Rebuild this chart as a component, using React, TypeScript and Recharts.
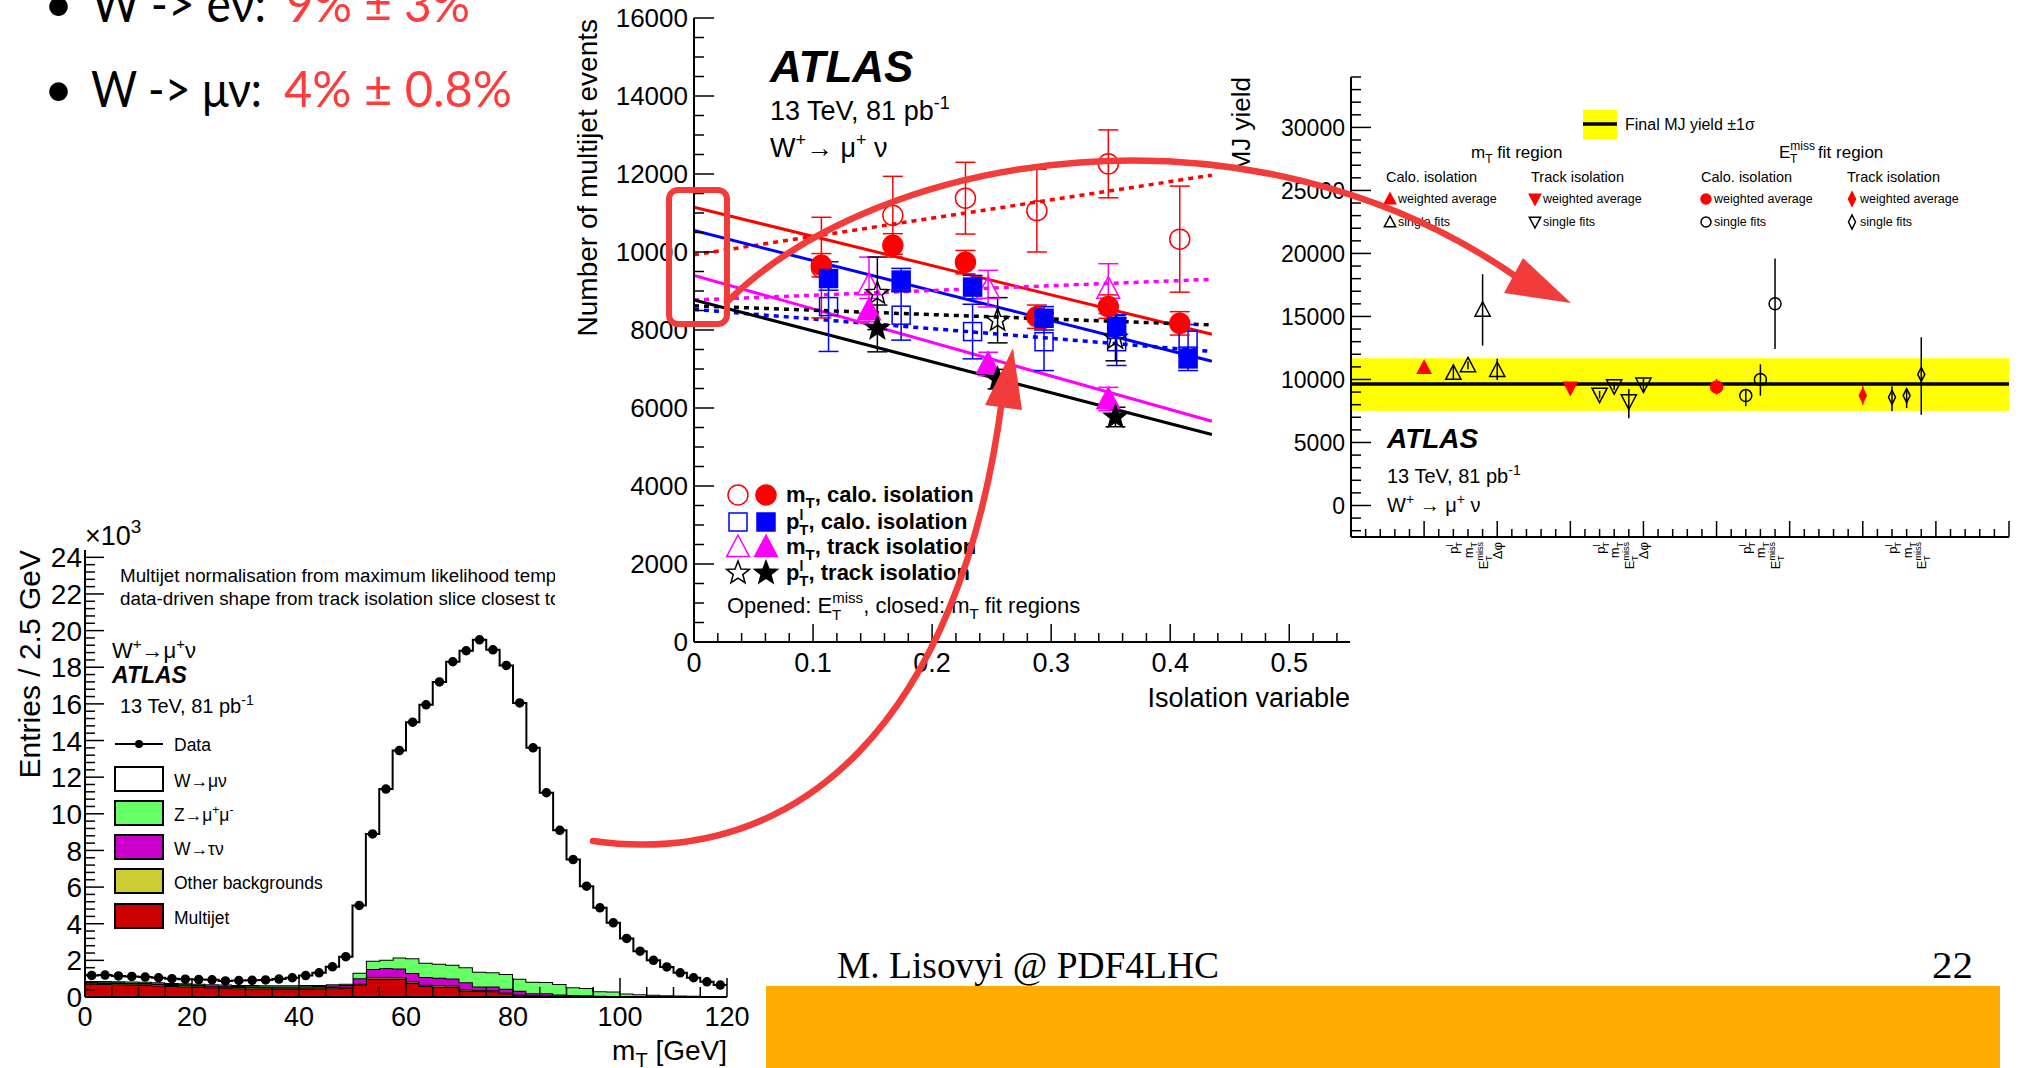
import React from 'react'
import {
  ComposedChart,
  Area,
  Line,
  Scatter,
  XAxis,
  YAxis,
  ErrorBar,
  ReferenceArea,
  ReferenceLine,
} from 'recharts'

const ROOT = '"Liberation Sans", Arial, Helvetica, sans-serif'
const RED = '#ff0000'
const BLUE = '#0000ff'
const MAGENTA = '#ff00ff'
const ARROW = '#f23c3c'
const frame = { stroke: '#000', strokeWidth: 2 }

// ---- m_T distribution, W+ -> mu+ nu, 2.5 GeV bins (thousands of entries) ----
const mtEdges = Array.from({ length: 48 }, (_, i) => i * 2.5)
const mtData = [
  1.18, 1.2, 1.15, 1.12, 1.09, 1.05, 1.0, 0.97, 0.95, 0.94, 0.88, 0.9, 0.91, 0.93, 0.98, 1.05,
  1.17, 1.32, 1.65, 2.2, 5.0, 8.9, 11.35, 13.45, 15.0, 15.95, 17.2, 18.3, 18.9, 19.5, 18.95, 18.1,
  16.05, 13.6, 11.15, 9.1, 7.5, 6.05, 4.87, 4.05, 3.2, 2.5, 2.0, 1.64, 1.32, 1.05, 0.83, 0.65,
]
const mtWmunu = [
  0.3, 0.33, 0.29, 0.28, 0.26, 0.25, 0.23, 0.22, 0.23, 0.25, 0.2, 0.24, 0.26, 0.29, 0.34, 0.41,
  0.52, 0.66, 0.96, 1.48, 3.67, 6.92, 9.32, 11.29, 12.89, 14.08, 15.39, 16.54, 17.28, 18.12, 17.6, 16.85,
  15.05, 12.77, 10.33, 8.39, 6.97, 5.56, 4.55, 3.75, 3.01, 2.35, 1.88, 1.54, 1.24, 0.98, 0.77, 0.6,
]
const mtZmumu = [
  0.06, 0.06, 0.06, 0.06, 0.06, 0.06, 0.06, 0.06, 0.06, 0.06, 0.06, 0.06, 0.06, 0.06, 0.06, 0.06,
  0.06, 0.06, 0.06, 0.06, 0.3, 0.45, 0.45, 0.6, 0.8, 0.78, 0.76, 0.75, 0.82, 0.8, 0.78, 0.8,
  0.66, 0.62, 0.62, 0.57, 0.42, 0.4, 0.25, 0.24, 0.16, 0.12, 0.1, 0.08, 0.06, 0.05, 0.04, 0.03,
]
const mtWtaunu = [
  0.04, 0.04, 0.04, 0.04, 0.05, 0.05, 0.05, 0.05, 0.05, 0.05, 0.06, 0.06, 0.06, 0.06, 0.07, 0.07,
  0.08, 0.08, 0.09, 0.1, 0.3, 0.45, 0.5, 0.5, 0.47, 0.42, 0.4, 0.38, 0.38, 0.2, 0.2, 0.2,
  0.2, 0.12, 0.12, 0.08, 0.06, 0.05, 0.04, 0.03, 0.02, 0.02, 0.01, 0.01, 0.01, 0.01, 0.01, 0.01,
]
const mtOther = [
  0.06, 0.06, 0.06, 0.06, 0.06, 0.06, 0.06, 0.06, 0.06, 0.06, 0.06, 0.06, 0.06, 0.06, 0.06, 0.06,
  0.06, 0.06, 0.06, 0.06, 0.05, 0.08, 0.08, 0.08, 0.08, 0.07, 0.07, 0.07, 0.06, 0.05, 0.05, 0.05,
  0.04, 0.04, 0.04, 0.03, 0.03, 0.02, 0.02, 0.02, 0.01, 0.01, 0.01, 0.01, 0.01, 0.01, 0.01, 0.01,
]
const mtMultijet = [
  0.72, 0.71, 0.7, 0.68, 0.66, 0.63, 0.6, 0.58, 0.55, 0.52, 0.5, 0.48, 0.47, 0.46, 0.45, 0.45,
  0.45, 0.46, 0.48, 0.5, 0.68, 1.0, 1.0, 0.98, 0.76, 0.6, 0.58, 0.56, 0.36, 0.33, 0.32, 0.2,
  0.1, 0.05, 0.04, 0.03, 0.02, 0.02, 0.01, 0.01, 0, 0, 0, 0, 0, 0, 0, 0,
]

// ---- multijet yield vs isolation slice ----
const isoMtCaloX = [0.107, 0.167, 0.228, 0.288, 0.348, 0.408]
const isoMtCaloClosed = [9660, 10170, 9740, 8340, 8600, 8170]
const isoMtCaloOpen = [9600, 10940, 11380, 11060, 12260, 10330]
const isoMtCaloOpenErr = [1290, 1000, 920, 1060, 870, 1360]
const isoPtCaloX = [0.113, 0.174, 0.234, 0.294, 0.355, 0.415]
const isoPtCaloClosed = [9320, 9280, 9100, 8300, 8090, 7260]
const isoPtCaloOpen = [8600, 8380, 7960, 7700, 7700, 7740]
const isoPtCaloOpenErr = [1150, 640, 700, 740, 610, 400]
const isoMtTrackX = [0.147, 0.247, 0.348]
const isoMtTrackClosed = [8510, 7130, 6230]
const isoMtTrackOpen = [9150, 9060, 9060]
const isoMtTrackOpenErr = [720, 470, 640]
const isoPtTrackX = [0.154, 0.255, 0.354]
const isoPtTrackClosed = [8040, 6740, 5770]
const isoPtTrackClosedErr = [600, 250, 250]
const isoPtTrackOpen = [8940, 8250, 7790]
const isoPtTrackOpenErr = [930, 580, 580]
const isoClosedErr = [300, 300, 300, 300, 300, 300]

// straight-line extrapolations to zero isolation
const fitX = [0, 0.435]
const fitMtCalo = [11150, 7890]
const fitMtCaloMet = [9930, 11970]
const fitPtCalo = [10550, 7200]
const fitPtCaloMet = [8530, 7450]
const fitMtTrack = [9400, 5660]
const fitMtTrackMet = [8770, 9300]
const fitPtTrack = [8770, 5320]
const fitPtTrackMet = [8620, 8130]

// ---- final multijet yield summary (x = slot index) ----
const mjFinal = 9650
const mjFinalLo = 7520
const mjFinalHi = 11680
const mjMtCaloAvgX = [5]
const mjMtCaloAvg = [10930]
const mjMtCaloFitX = [7, 8, 9, 10]
const mjMtCaloFit = [10530, 11120, 15530, 10750]
const mjMtCaloFitLo = [580, 300, 2840, 800]
const mjMtCaloFitHi = [540, 300, 2820, 900]
const mjMtTrackAvgX = [15]
const mjMtTrackAvg = [9330]
const mjMtTrackFitX = [17, 18, 19, 20]
const mjMtTrackFit = [8800, 9470, 8270, 9600]
const mjMtTrackFitLo = [300, 300, 1340, 610]
const mjMtTrackFitHi = [300, 300, 980, 450]
const mjMetCaloAvgX = [25]
const mjMetCaloAvg = [9410]
const mjMetCaloAvgLo = [610]
const mjMetCaloAvgHi = [640]
const mjMetCaloFitX = [27, 28, 29]
const mjMetCaloFit = [8720, 10000, 16010]
const mjMetCaloFitLo = [850, 1280, 3590]
const mjMetCaloFitHi = [480, 1200, 3590]
const mjMetTrackAvgX = [35]
const mjMetTrackAvg = [8720]
const mjMetTrackAvgLo = [720]
const mjMetTrackAvgHi = [750]
const mjMetTrackFitX = [37, 38, 39]
const mjMetTrackFit = [8590, 8720, 10400]
const mjMetTrackFitLo = [1120, 990, 3200]
const mjMetTrackFitHi = [880, 480, 2950]
const mjLabelSlots = [7, 8, 9, 10, 17, 18, 19, 20, 27, 28, 29, 37, 38, 39]
const mjLabelVars = ['pt', 'mt', 'met', 'dphi', 'pt', 'mt', 'met', 'dphi', 'pt', 'mt', 'met', 'pt', 'mt', 'met']

const grid = (a: number, b: number, s: number) =>
  Array.from({ length: Math.floor((b - a) / s + 1e-9) + 1 }, (_, i) => +(a + i * s).toFixed(4))

const pts = (xs: number[], ys: number[], lo?: number[], hi?: number[]) =>
  xs.map((x, i) => ({ x, y: ys[i], e: [lo ? lo[i] : 0, hi ? hi[i] : lo ? lo[i] : 0] }))

const fitRows = (ys: number[]) => fitX.map((x, i) => ({ x, y: ys[i] }))

type Side = 'bottom' | 'left' | 'top' | 'right'
type TickOpts = { side: Side; step: number; major: number; minor: number; font?: number; gap?: number; fmt?: (v: number) => string }

// ROOT style: ticks drawn inward, long ones on the major divisions
function rootTick(o: TickOpts) {
  return (props: any) => {
    const { x, y, payload } = props
    const v: number = payload.value
    const r = v / o.step
    const isMajor = Math.abs(r - Math.round(r)) < 1e-6
    const len = isMajor ? o.major : o.minor
    const dx = o.side === 'left' ? len : o.side === 'right' ? -len : 0
    const dy = o.side === 'bottom' ? -len : o.side === 'top' ? len : 0
    return (
      <g>
        <line x1={x} y1={y} x2={x + dx} y2={y + dy} stroke="#000" strokeWidth={1.5} />
        {isMajor && o.fmt && o.side === 'bottom' && (
          <text x={x} y={y + (o.gap ?? 0)} textAnchor="middle" fontFamily={ROOT} fontSize={o.font} fill="#000">
            {o.fmt(v)}
          </text>
        )}
        {isMajor && o.fmt && o.side === 'left' && (
          <text x={x - (o.gap ?? 0)} y={y} dy="0.36em" textAnchor="end" fontFamily={ROOT} fontSize={o.font} fill="#000">
            {o.fmt(v)}
          </text>
        )}
      </g>
    )
  }
}

type Kind = 'circle' | 'square' | 'triUp' | 'triDown' | 'star' | 'diamond'

function Marker({ kind, cx, cy, size, color, open, sw = 1.5 }: { kind: Kind; cx: number; cy: number; size: number; color: string; open?: boolean; sw?: number }) {
  const fill = open ? 'none' : color
  const s = size
  const common = { fill, stroke: color, strokeWidth: sw }
  switch (kind) {
    case 'circle':
      return <circle cx={cx} cy={cy} r={s} {...common} />
    case 'square':
      return <rect x={cx - s} y={cy - s} width={2 * s} height={2 * s} {...common} />
    case 'triUp':
      return <polygon points={`${cx},${cy - s} ${cx + s * 0.95},${cy + s * 0.8} ${cx - s * 0.95},${cy + s * 0.8}`} {...common} />
    case 'triDown':
      return <polygon points={`${cx},${cy + s} ${cx + s * 0.95},${cy - s * 0.8} ${cx - s * 0.95},${cy - s * 0.8}`} {...common} />
    case 'diamond':
      return <polygon points={`${cx},${cy - s} ${cx + s * 0.5},${cy} ${cx},${cy + s} ${cx - s * 0.5},${cy}`} {...common} />
    case 'star': {
      const p: string[] = []
      for (let k = 0; k < 10; k++) {
        const rr = k % 2 === 0 ? s : s * 0.42
        const a = -Math.PI / 2 + (k * Math.PI) / 5
        p.push(`${cx + rr * Math.cos(a)},${cy + rr * Math.sin(a)}`)
      }
      return <polygon points={p.join(' ')} {...common} />
    }
  }
  return null
}

const shapeOf = (kind: Kind, size: number, color: string, open = false, sw = 1.5) => (p: any) => (
  <Marker kind={kind} cx={p.cx} cy={p.cy} size={size} color={color} open={open} sw={sw} />
)

const pageSvg: React.CSSProperties = { position: 'absolute', left: 0, top: 0, pointerEvents: 'none' }

// ------------------------------------------------------------------
function MtHistogram() {
  const rows = [...mtEdges, 120].map((x, k) => {
    const i = Math.min(k, mtEdges.length - 1)
    return { x, mj: mtMultijet[i], oth: mtOther[i], tau: mtWtaunu[i], z: mtZmumu[i], w: mtWmunu[i] }
  })
  const points = mtEdges.map((x, i) => ({ x: x + 1.25, y: mtData[i] }))
  const xt = grid(0, 120, 5)
  const yt = grid(0, 24, 0.4)
  const boxes = [
    { label: 'wmunu', fill: '#ffffff', top: 767 },
    { label: 'zmumu', fill: '#66ff66', top: 801 },
    { label: 'wtaunu', fill: '#cc00cc', top: 835 },
    { label: 'other', fill: '#cccc33', top: 869 },
    { label: 'mj', fill: '#cc0000', top: 904 },
  ]
  const legendText = (l: string) => {
    if (l === 'wmunu') return <>W→μν</>
    if (l === 'zmumu')
      return (
        <>
          Z→μ<tspan dy={-7} fontSize={12}>+</tspan>
          <tspan dy={7}>μ</tspan>
          <tspan dy={-7} fontSize={12}>-</tspan>
        </>
      )
    if (l === 'wtaunu') return <>W→τν</>
    if (l === 'other') return <>Other backgrounds</>
    return <>Multijet</>
  }
  return (
    <>
      <div style={{ position: 'absolute', left: 0, top: 500 }}>
        <ComposedChart width={760} height={568} data={rows} margin={{ top: 50, right: 33, bottom: 0, left: 0 }}>
          <XAxis dataKey="x" type="number" domain={[0, 120]} ticks={xt} interval={0} height={71} tickSize={0} tickMargin={0}
            axisLine={frame} allowDataOverflow
            tick={rootTick({ side: 'bottom', step: 20, major: 19, minor: 10, font: 27, gap: 29, fmt: (v) => String(v) })} />
          <XAxis xAxisId="top" orientation="top" type="number" domain={[0, 120]} ticks={xt} interval={0} height={0}
            tickSize={0} tickMargin={0} axisLine={frame} allowDataOverflow
            tick={rootTick({ side: 'top', step: 20, major: 19, minor: 10 })} />
          <YAxis type="number" domain={[0, 24.4]} ticks={yt} interval={0} width={85} tickSize={0} tickMargin={0}
            axisLine={frame} allowDataOverflow
            tick={rootTick({ side: 'left', step: 2, major: 19, minor: 10, font: 28, gap: 3, fmt: (v) => String(v) })} />
          <YAxis yAxisId="right" orientation="right" type="number" domain={[0, 24.4]} ticks={yt} interval={0} width={0}
            tickSize={0} tickMargin={0} axisLine={frame} allowDataOverflow
            tick={rootTick({ side: 'right', step: 2, major: 19, minor: 10 })} />
          <Area type="stepAfter" dataKey="mj" stackId="mc" stroke="#000" strokeWidth={2} fill="#cc0000" fillOpacity={1} isAnimationActive={false} activeDot={false} />
          <Area type="stepAfter" dataKey="oth" stackId="mc" stroke="#000" strokeWidth={2} fill="#cccc33" fillOpacity={1} isAnimationActive={false} activeDot={false} />
          <Area type="stepAfter" dataKey="tau" stackId="mc" stroke="#000" strokeWidth={2} fill="#cc00cc" fillOpacity={1} isAnimationActive={false} activeDot={false} />
          <Area type="stepAfter" dataKey="z" stackId="mc" stroke="#000" strokeWidth={2} fill="#66ff66" fillOpacity={1} isAnimationActive={false} activeDot={false} />
          <Area type="stepAfter" dataKey="w" stackId="mc" stroke="#000" strokeWidth={2} fill="#ffffff" fillOpacity={1} isAnimationActive={false} activeDot={false} />
          <Scatter data={points} dataKey="y" isAnimationActive={false} shape={shapeOf('circle', 4, '#000')} />
        </ComposedChart>
      </div>
      <svg width={2023} height={1068} style={pageSvg} fontFamily={ROOT}>
        <text x={85} y={545} fontSize={27}>
          ×10<tspan dy={-12} fontSize={19}>3</tspan>
        </text>
        <text transform="translate(40,550) rotate(-90)" textAnchor="end" fontSize={30}>
          Entries / 2.5 GeV
        </text>
        <text x={727} y={1060} textAnchor="end" fontSize={28}>
          m<tspan dy={7} fontSize={20}>T</tspan>
          <tspan dy={-7}> [GeV]</tspan>
        </text>
        <text x={120} y={582} fontSize={18.8}>Multijet normalisation from maximum likelihood template fit,</text>
        <text x={120} y={605} fontSize={18.8}>data-driven shape from track isolation slice closest to signal region</text>
        <text x={112} y={658} fontSize={22}>
          W<tspan dy={-9} fontSize={15}>+</tspan>
          <tspan dy={9}>→μ</tspan>
          <tspan dy={-9} fontSize={15}>+</tspan>
          <tspan dy={9}>ν</tspan>
        </text>
        <text x={112} y={683} fontSize={23} fontWeight="bold" fontStyle="italic">ATLAS</text>
        <text x={120} y={713} fontSize={20}>
          13 TeV, 81 pb<tspan dy={-8} fontSize={14}>-1</tspan>
        </text>
        <line x1={115} y1={744} x2={163} y2={744} stroke="#000" strokeWidth={2} />
        <circle cx={139} cy={744} r={4} fill="#000" />
        <text x={174} y={751} fontSize={17.5}>Data</text>
        {boxes.map((b) => (
          <g key={b.label}>
            <rect x={115} y={b.top} width={48} height={24} fill={b.fill} stroke="#000" strokeWidth={2} />
            <text x={174} y={b.top + 20} fontSize={17.5}>{legendText(b.label)}</text>
          </g>
        ))}
      </svg>
    </>
  )
}

// ------------------------------------------------------------------
function IsolationScan() {
  const xt = grid(0, 0.54, 0.02)
  const yt = grid(0, 16000, 500)
  const fmtX = (v: number) => (v === 0 ? '0' : v.toFixed(1))
  const legendRows = [
    { kind: 'circle' as Kind, color: RED, cy: 495, base: 502, sub: 'm', text: ', calo. isolation' },
    { kind: 'square' as Kind, color: BLUE, cy: 522, base: 529, sub: 'p', text: ', calo. isolation' },
    { kind: 'triUp' as Kind, color: MAGENTA, cy: 547, base: 554, sub: 'm', text: ', track isolation' },
    { kind: 'star' as Kind, color: '#000', cy: 573, base: 580, sub: 'p', text: ', track isolation' },
  ]
  return (
    <>
      <div style={{ position: 'absolute', left: 555, top: 0, width: 810, height: 775, background: '#fff' }} />
      <div style={{ position: 'absolute', left: 600, top: 0 }}>
        <ComposedChart width={800} height={720} margin={{ top: 18, right: 50, bottom: 0, left: 0 }}>
          <XAxis dataKey="x" type="number" domain={[0, 0.551]} ticks={xt} interval={0} height={78} tickSize={0} tickMargin={0}
            axisLine={frame} allowDataOverflow
            tick={rootTick({ side: 'bottom', step: 0.1, major: 18, minor: 9, font: 27, gap: 30, fmt: fmtX })} />
          <XAxis xAxisId="top" orientation="top" type="number" domain={[0, 0.551]} ticks={xt} interval={0} height={0}
            tickSize={0} tickMargin={0} axisLine={frame} allowDataOverflow
            tick={rootTick({ side: 'top', step: 0.1, major: 18, minor: 9 })} />
          <YAxis type="number" domain={[0, 16000]} ticks={yt} interval={0} width={94} tickSize={0} tickMargin={0}
            axisLine={frame} allowDataOverflow
            tick={rootTick({ side: 'left', step: 2000, major: 20, minor: 10, font: 26, gap: 6, fmt: (v) => String(v) })} />
          <YAxis yAxisId="right" orientation="right" type="number" domain={[0, 16000]} ticks={yt} interval={0} width={0}
            tickSize={0} tickMargin={0} axisLine={frame} allowDataOverflow
            tick={rootTick({ side: 'right', step: 2000, major: 20, minor: 10 })} />

          <Line data={fitRows(fitMtCalo)} dataKey="y" stroke={RED} strokeWidth={3} dot={false} activeDot={false} isAnimationActive={false} />
          <Line data={fitRows(fitMtCaloMet)} dataKey="y" stroke={RED} strokeWidth={3.5} strokeDasharray="5 5" dot={false} activeDot={false} isAnimationActive={false} />
          <Line data={fitRows(fitPtCalo)} dataKey="y" stroke={BLUE} strokeWidth={3} dot={false} activeDot={false} isAnimationActive={false} />
          <Line data={fitRows(fitPtCaloMet)} dataKey="y" stroke={BLUE} strokeWidth={3.5} strokeDasharray="5 5" dot={false} activeDot={false} isAnimationActive={false} />
          <Line data={fitRows(fitMtTrack)} dataKey="y" stroke={MAGENTA} strokeWidth={3} dot={false} activeDot={false} isAnimationActive={false} />
          <Line data={fitRows(fitMtTrackMet)} dataKey="y" stroke={MAGENTA} strokeWidth={3.5} strokeDasharray="5 5" dot={false} activeDot={false} isAnimationActive={false} />
          <Line data={fitRows(fitPtTrack)} dataKey="y" stroke="#000" strokeWidth={3} dot={false} activeDot={false} isAnimationActive={false} />
          <Line data={fitRows(fitPtTrackMet)} dataKey="y" stroke="#000" strokeWidth={3.5} strokeDasharray="5 5" dot={false} activeDot={false} isAnimationActive={false} />

          <Scatter data={pts(isoMtCaloX, isoMtCaloOpen, isoMtCaloOpenErr)} dataKey="y" isAnimationActive={false} shape={shapeOf('circle', 10, RED, true)}>
            <ErrorBar dataKey="e" direction="y" width={10} stroke={RED} strokeWidth={1.5} />
          </Scatter>
          <Scatter data={pts(isoPtCaloX, isoPtCaloOpen, isoPtCaloOpenErr)} dataKey="y" isAnimationActive={false} shape={shapeOf('square', 9, BLUE, true)}>
            <ErrorBar dataKey="e" direction="y" width={10} stroke={BLUE} strokeWidth={1.5} />
          </Scatter>
          <Scatter data={pts(isoMtTrackX, isoMtTrackOpen, isoMtTrackOpenErr)} dataKey="y" isAnimationActive={false} shape={shapeOf('triUp', 12, MAGENTA, true)}>
            <ErrorBar dataKey="e" direction="y" width={10} stroke={MAGENTA} strokeWidth={1.5} />
          </Scatter>
          <Scatter data={pts(isoPtTrackX, isoPtTrackOpen, isoPtTrackOpenErr)} dataKey="y" isAnimationActive={false} shape={shapeOf('star', 12, '#000', true)}>
            <ErrorBar dataKey="e" direction="y" width={10} stroke="#000" strokeWidth={1.5} />
          </Scatter>
          <Scatter data={pts(isoMtCaloX, isoMtCaloClosed, isoClosedErr)} dataKey="y" isAnimationActive={false} shape={shapeOf('circle', 10, RED)}>
            <ErrorBar dataKey="e" direction="y" width={10} stroke={RED} strokeWidth={1.5} />
          </Scatter>
          <Scatter data={pts(isoPtCaloX, isoPtCaloClosed, isoClosedErr)} dataKey="y" isAnimationActive={false} shape={shapeOf('square', 9, BLUE)}>
            <ErrorBar dataKey="e" direction="y" width={10} stroke={BLUE} strokeWidth={1.5} />
          </Scatter>
          <Scatter data={pts(isoMtTrackX, isoMtTrackClosed, isoClosedErr)} dataKey="y" isAnimationActive={false} shape={shapeOf('triUp', 12, MAGENTA)}>
            <ErrorBar dataKey="e" direction="y" width={10} stroke={MAGENTA} strokeWidth={1.5} />
          </Scatter>
          <Scatter data={pts(isoPtTrackX, isoPtTrackClosed, isoPtTrackClosedErr)} dataKey="y" isAnimationActive={false} shape={shapeOf('star', 12, '#000')}>
            <ErrorBar dataKey="e" direction="y" width={10} stroke="#000" strokeWidth={1.5} />
          </Scatter>
        </ComposedChart>
      </div>
      <svg width={2023} height={1068} style={pageSvg} fontFamily={ROOT}>
        <text transform="translate(597,19) rotate(-90)" textAnchor="end" fontSize={28}>
          Number of multijet events
        </text>
        <text x={1350} y={707} textAnchor="end" fontSize={27}>Isolation variable</text>
        <text x={770} y={82} fontSize={44} fontWeight="bold" fontStyle="italic">ATLAS</text>
        <text x={770} y={120} fontSize={27}>
          13 TeV, 81 pb<tspan dy={-11} fontSize={18}>-1</tspan>
        </text>
        <text x={770} y={157} fontSize={27}>
          W<tspan dy={-11} fontSize={18}>+</tspan>
          <tspan dy={11}>→ μ</tspan>
          <tspan dy={-11} fontSize={18}>+</tspan>
          <tspan dy={11}> ν</tspan>
        </text>
        {legendRows.map((r) => (
          <g key={r.cy}>
            <Marker kind={r.kind} cx={738} cy={r.cy} size={r.kind === 'square' ? 9 : r.kind === 'circle' ? 10 : 12} color={r.color} open />
            <Marker kind={r.kind} cx={766} cy={r.cy} size={r.kind === 'square' ? 9 : r.kind === 'circle' ? 10 : 12} color={r.color} />
            <text x={786} y={r.base} fontSize={22} fontWeight="bold">
              {r.sub === 'm' ? (
                <>
                  m<tspan dy={6} fontSize={15}>T</tspan>
                  <tspan dy={-6}>{r.text}</tspan>
                </>
              ) : (
                <>
                  p<tspan dy={-9} fontSize={14}>l</tspan>
                  <tspan dx={-4} dy={15} fontSize={15}>T</tspan>
                  <tspan dy={-6}>{r.text}</tspan>
                </>
              )}
            </text>
          </g>
        ))}
        <text x={727} y={613} fontSize={22}>
          Opened: E<tspan dy={-10} fontSize={15}>miss</tspan>
          <tspan dx={-31} dy={17} fontSize={15}>T</tspan>
          <tspan dx={22} dy={-7}>, closed: m</tspan>
          <tspan dy={6} fontSize={15}>T</tspan>
          <tspan dy={-6}> fit regions</tspan>
        </text>
      </svg>
    </>
  )
}

// ------------------------------------------------------------------
function slotLabel(v: string) {
  if (v === 'pt')
    return (
      <>
        p<tspan dy={-5} fontSize={9}>l</tspan>
        <tspan dx={-3} dy={9} fontSize={9}>T</tspan>
      </>
    )
  if (v === 'mt')
    return (
      <>
        m<tspan dy={4} fontSize={9}>T</tspan>
      </>
    )
  if (v === 'met')
    return (
      <>
        E<tspan dy={-5} fontSize={9}>miss</tspan>
        <tspan dx={-19} dy={9} fontSize={9}>T</tspan>
      </>
    )
  return <>Δφ</>
}

function mjXTick(props: any) {
  const { x, y, payload } = props
  const v: number = payload.value
  const len = v % 5 === 0 ? 16 : 8
  const idx = mjLabelSlots.indexOf(v)
  return (
    <g>
      <line x1={x} y1={y} x2={x} y2={y - len} stroke="#000" strokeWidth={1.5} />
      {idx >= 0 && (
        <text transform={`translate(${x + 5},${y + 5}) rotate(-90)`} textAnchor="end" fontFamily={ROOT} fontSize={13} fill="#000">
          {slotLabel(mjLabelVars[idx])}
        </text>
      )}
    </g>
  )
}

function YieldSummary() {
  const xt = grid(0, 45, 1)
  const yt = grid(-2000, 34000, 1000)
  const legendCols = [
    { x: 1390, head: 'Calo. isolation', avg: 'triUp' as Kind, fit: 'triUp' as Kind, headX: 1386 },
    { x: 1535, head: 'Track isolation', avg: 'triDown' as Kind, fit: 'triDown' as Kind, headX: 1531 },
    { x: 1706, head: 'Calo. isolation', avg: 'circle' as Kind, fit: 'circle' as Kind, headX: 1701 },
    { x: 1852, head: 'Track isolation', avg: 'diamond' as Kind, fit: 'diamond' as Kind, headX: 1847 },
  ]
  const small = (k: Kind) => (k === 'circle' ? 5 : k === 'diamond' ? 7 : 6)
  return (
    <>
      <div style={{ position: 'absolute', left: 1212, top: 45, width: 811, height: 535, background: '#fff' }} />
      <div style={{ position: 'absolute', left: 1212, top: 45 }}>
        <ComposedChart width={811} height={535} margin={{ top: 32, right: 14, bottom: 0, left: 0 }}>
          <XAxis dataKey="x" type="number" domain={[0, 45]} ticks={xt} interval={0} height={43} tickSize={0} tickMargin={0}
            axisLine={frame} allowDataOverflow tick={mjXTick} />
          <XAxis xAxisId="top" orientation="top" type="number" domain={[0, 45]} ticks={xt} interval={0} height={0}
            tickSize={0} tickMargin={0} axisLine={frame} allowDataOverflow
            tick={rootTick({ side: 'top', step: 5, major: 16, minor: 8 })} />
          <YAxis type="number" domain={[-2500, 34000]} ticks={yt} interval={0} width={139} tickSize={0} tickMargin={0}
            axisLine={frame} allowDataOverflow
            tick={rootTick({ side: 'left', step: 5000, major: 20, minor: 10, font: 23, gap: 6, fmt: (v) => String(v) })} />
          <YAxis yAxisId="right" orientation="right" type="number" domain={[-2500, 34000]} ticks={yt} interval={0} width={0}
            tickSize={0} tickMargin={0} axisLine={frame} allowDataOverflow
            tick={rootTick({ side: 'right', step: 5000, major: 20, minor: 10 })} />
          <ReferenceArea y1={mjFinalLo} y2={mjFinalHi} fill="#ffff00" fillOpacity={1} stroke="none" />
          <ReferenceLine y={mjFinal} stroke="#000" strokeWidth={3.5} />

          <Scatter data={pts(mjMtCaloAvgX, mjMtCaloAvg)} dataKey="y" isAnimationActive={false} shape={shapeOf('triUp', 7, RED)} />
          <Scatter data={pts(mjMtCaloFitX, mjMtCaloFit, mjMtCaloFitLo, mjMtCaloFitHi)} dataKey="y" isAnimationActive={false} shape={shapeOf('triUp', 8, '#000', true)}>
            <ErrorBar dataKey="e" direction="y" width={0} stroke="#000" strokeWidth={1.5} />
          </Scatter>
          <Scatter data={pts(mjMtTrackAvgX, mjMtTrackAvg)} dataKey="y" isAnimationActive={false} shape={shapeOf('triDown', 7, RED)} />
          <Scatter data={pts(mjMtTrackFitX, mjMtTrackFit, mjMtTrackFitLo, mjMtTrackFitHi)} dataKey="y" isAnimationActive={false} shape={shapeOf('triDown', 8, '#000', true)}>
            <ErrorBar dataKey="e" direction="y" width={0} stroke="#000" strokeWidth={1.5} />
          </Scatter>
          <Scatter data={pts(mjMetCaloAvgX, mjMetCaloAvg, mjMetCaloAvgLo, mjMetCaloAvgHi)} dataKey="y" isAnimationActive={false} shape={shapeOf('circle', 6, RED)}>
            <ErrorBar dataKey="e" direction="y" width={0} stroke={RED} strokeWidth={1.5} />
          </Scatter>
          <Scatter data={pts(mjMetCaloFitX, mjMetCaloFit, mjMetCaloFitLo, mjMetCaloFitHi)} dataKey="y" isAnimationActive={false} shape={shapeOf('circle', 6, '#000', true)}>
            <ErrorBar dataKey="e" direction="y" width={0} stroke="#000" strokeWidth={1.5} />
          </Scatter>
          <Scatter data={pts(mjMetTrackAvgX, mjMetTrackAvg, mjMetTrackAvgLo, mjMetTrackAvgHi)} dataKey="y" isAnimationActive={false} shape={shapeOf('diamond', 7, RED)}>
            <ErrorBar dataKey="e" direction="y" width={0} stroke={RED} strokeWidth={1.5} />
          </Scatter>
          <Scatter data={pts(mjMetTrackFitX, mjMetTrackFit, mjMetTrackFitLo, mjMetTrackFitHi)} dataKey="y" isAnimationActive={false} shape={shapeOf('diamond', 7, '#000', true)}>
            <ErrorBar dataKey="e" direction="y" width={0} stroke="#000" strokeWidth={1.5} />
          </Scatter>
        </ComposedChart>
      </div>
      <svg width={2023} height={1068} style={pageSvg} fontFamily={ROOT}>
        <text transform="translate(1250,77) rotate(-90)" textAnchor="end" fontSize={26}>MJ yield</text>
        <rect x={1583} y={110} width={34} height={29} fill="#ffff00" />
        <line x1={1583} y1={124} x2={1617} y2={124} stroke="#000" strokeWidth={3.5} />
        <text x={1625} y={130} fontSize={16}>Final MJ yield ±1σ</text>
        <text x={1471} y={158} fontSize={17}>
          m<tspan dy={5} fontSize={12}>T</tspan>
          <tspan dy={-5}> fit region</tspan>
        </text>
        <text x={1779} y={158} fontSize={17}>
          E<tspan dy={-8} fontSize={12}>miss</tspan>
          <tspan dx={-25} dy={13} fontSize={12}>T</tspan>
          <tspan dx={16} dy={-5}> fit region</tspan>
        </text>
        {legendCols.map((c, i) => (
          <g key={i}>
            <text x={c.headX} y={182} fontSize={14.5}>{c.head}</text>
            <Marker kind={c.avg} cx={c.x} cy={199} size={small(c.avg)} color={RED} />
            <text x={c.x + 8} y={203} fontSize={12.5}>weighted average</text>
            <Marker kind={c.fit} cx={c.x} cy={222} size={small(c.fit)} color="#000" open />
            <text x={c.x + 8} y={226} fontSize={12.5}>single fits</text>
          </g>
        ))}
        <text x={1387} y={448} fontSize={28} fontWeight="bold" fontStyle="italic">ATLAS</text>
        <text x={1387} y={483} fontSize={20}>
          13 TeV, 81 pb<tspan dy={-8} fontSize={14}>-1</tspan>
        </text>
        <text x={1387} y={512} fontSize={20}>
          W<tspan dy={-8} fontSize={14}>+</tspan>
          <tspan dy={8}> → μ</tspan>
          <tspan dy={-8} fontSize={14}>+</tspan>
          <tspan dy={8}> ν</tspan>
        </text>
      </svg>
    </>
  )
}

// ------------------------------------------------------------------
function SlideDecor() {
  return (
    <>
      <div style={{ position: 'absolute', left: 766, top: 986, width: 1234, height: 82, background: '#ffab00' }} />
      <svg width={2023} height={1068} style={pageSvg}>
        <g fontFamily='Lato, "DejaVu Sans", sans-serif' fontSize={50}>
          <text x={44} y={22}>•</text>
          <text x={92} y={22} textLength={174} lengthAdjust="spacingAndGlyphs">W -&gt; eν:</text>
          <text x={286} y={22} fill="#ff3c3c" textLength={184} lengthAdjust="spacingAndGlyphs">9% ± 3%</text>
          <text x={44} y={107}>•</text>
          <text x={91} y={107} textLength={171} lengthAdjust="spacingAndGlyphs">W -&gt; μν:</text>
          <text x={284} y={107} fill="#ff3c3c" textLength={228} lengthAdjust="spacingAndGlyphs">4% ± 0.8%</text>
        </g>
        <g fontFamily='"Liberation Serif", "DejaVu Serif", serif' fontSize={38}>
          <text x={837} y={978} textLength={382} lengthAdjust="spacingAndGlyphs">M. Lisovyi @ PDF4LHC</text>
          <text x={1932} y={978} textLength={41} lengthAdjust="spacingAndGlyphs">22</text>
        </g>
        <rect x={669} y={190} width={58} height={134} rx={9} fill="none" stroke={ARROW} strokeWidth={6} />
        <path d="M 727 302 C 880 150 1250 90 1518 278" fill="none" stroke={ARROW} strokeWidth={6.5} strokeLinecap="round" />
        <polygon points="1571,303 1523,258 1504,293" fill={ARROW} />
        <path d="M 593 841 C 800 870 960 720 1002 400" fill="none" stroke={ARROW} strokeWidth={6.5} strokeLinecap="round" />
        <polygon points="1013,348 985,405 1022,410" fill={ARROW} />
      </svg>
    </>
  )
}

export default function App() {
  return (
    <div style={{ position: 'absolute', left: 0, top: 0, width: 2023, height: 1068, background: '#fff', overflow: 'hidden' }}>
      <MtHistogram />
      <IsolationScan />
      <YieldSummary />
      <SlideDecor />
    </div>
  )
}
